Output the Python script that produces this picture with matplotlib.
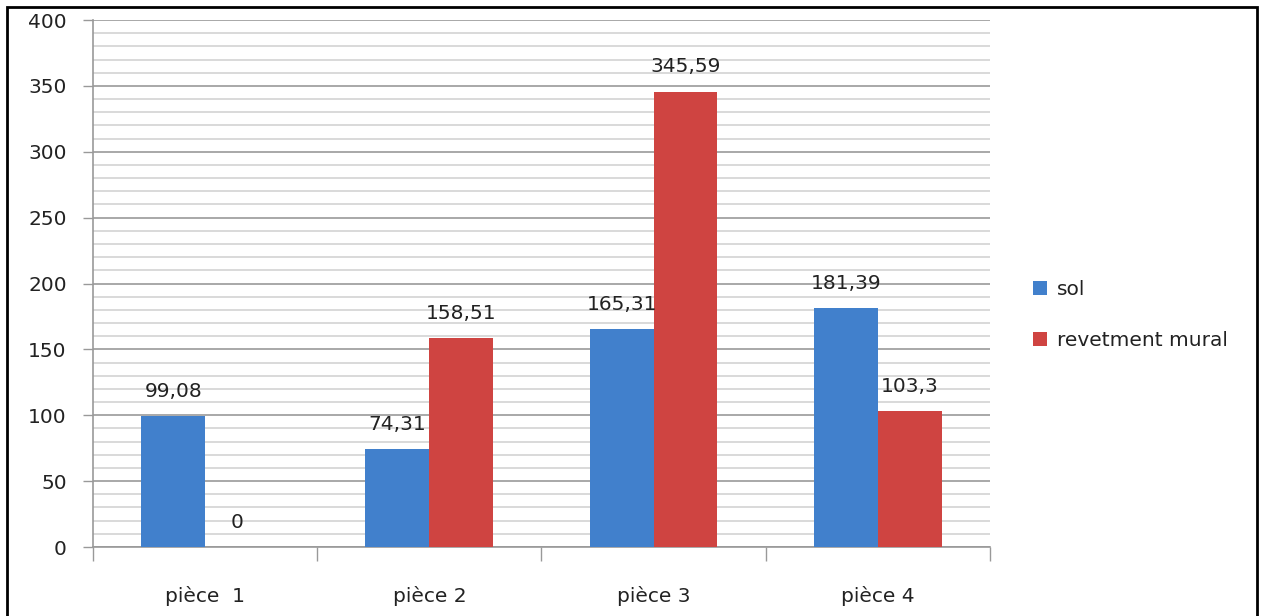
import numpy as np
import matplotlib
matplotlib.use("Agg")
import matplotlib.pyplot as plt
from matplotlib.patches import Rectangle
from matplotlib.ticker import MultipleLocator

# surfaces par pièce
categories = ["pièce  1", "pièce 2", "pièce 3", "pièce 4"]
sol = [99.08, 74.31, 165.31, 181.39]
revetement = [0, 158.51, 345.59, 103.3]
series_names = ["sol", "revetment mural"]

blue = "#4180CC"
red = "#CF4441"

fig = plt.figure(figsize=(12.61, 6.16), dpi=100)
ax = fig.add_axes([0.0738, 0.112, 0.7112, 0.8555])

x = np.arange(len(categories))
w = 0.285
b1 = ax.bar(x - w / 2, sol, w, color=blue, label=series_names[0], zorder=3)
b2 = ax.bar(x + w / 2, revetement, w, color=red, label=series_names[1], zorder=3)

def fmt(v):
    return ("%g" % v).replace(".", ",")

for bars, vals in ((b1, sol), (b2, revetement)):
    for r, v in zip(bars, vals):
        ax.annotate(fmt(v), (r.get_x() + r.get_width() / 2, v),
                    xytext=(0, 11), textcoords="offset points",
                    ha="center", va="bottom", fontsize=14.5, color="#222222")

ax.set_xlim(-0.5, len(categories) - 0.5)
ax.set_ylim(0, 400)
ax.yaxis.set_major_locator(MultipleLocator(50))
ax.yaxis.set_minor_locator(MultipleLocator(10))
ax.grid(axis="y", which="major", color="#999999", linewidth=1.2, zorder=0)
ax.grid(axis="y", which="minor", color="#D3D3D3", linewidth=1.2, zorder=0)
ax.tick_params(axis="y", which="minor", length=0)
ax.tick_params(axis="y", which="major", length=7, width=1, color="#999999",
               labelsize=14.5, labelcolor="#222222", pad=12)

ax.set_xticks(np.arange(-0.5, len(categories)), minor=False)
ax.set_xticklabels([])
ax.set_xticks(x, minor=True)
ax.set_xticklabels(categories, minor=True)
ax.tick_params(axis="x", which="major", length=10, width=1, color="#999999")
ax.tick_params(axis="x", which="minor", length=0, labelsize=14.5,
               labelcolor="#222222", pad=28)

for s in ("top", "right"):
    ax.spines[s].set_visible(False)
for s in ("left", "bottom"):
    ax.spines[s].set_color("#999999")
    ax.spines[s].set_linewidth(1.2)

ax.legend(loc="center left", bbox_to_anchor=(1.028, 0.44), frameon=False,
          fontsize=14.5, handlelength=0.7, handleheight=0.7, handletextpad=0.5,
          labelspacing=1.6, labelcolor="#222222")

# cadre autour du graphique
fig.patches.append(Rectangle((7 / 1261, -0.05), 1250 / 1261, 1.05 - 7 / 616,
                             transform=fig.transFigure, fill=False,
                             edgecolor="black", linewidth=2))

fig.savefig("out.png", dpi=100)
